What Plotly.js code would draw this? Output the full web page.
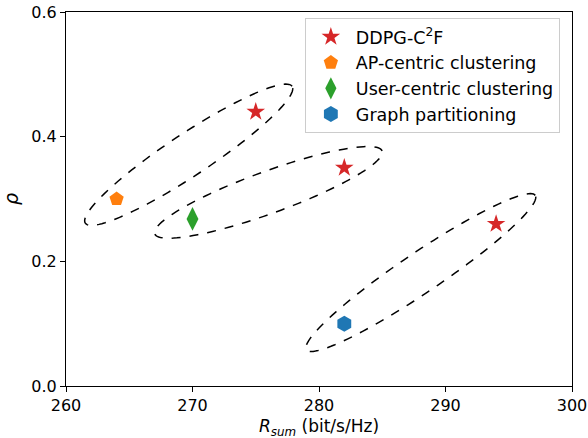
<!DOCTYPE html>
<html>
<head>
<meta charset="utf-8">
<script src="https://cdn.plot.ly/plotly-3.0.1.min.js"></script>
<style>html,body{margin:0;padding:0;background:#fff;}#chart{width:588px;height:438px;}</style>
</head>
<body>
<div id="chart"></div>
<script>
// ---- data ----
const seriesNames = ['DDPG-C<sup>2</sup>F', 'AP-centric clustering', 'User-centric clustering', 'Graph partitioning'];
const ddpgX = [275, 282, 294];
const ddpgY = [0.44, 0.35, 0.26];
const apX = [264];
const apY = [0.30];
const userX = [270];
const userY = [0.268];
const graphX = [282];
const graphY = [0.10];
const xTitle = '<i>R</i><sub><i>sum</i></sub> (bit/s/Hz)';
const yTitle = '<i>ρ</i>';

// ellipse groups: center (data), semi-axes (px), rotation (deg, screen)
const ellCx = [269.7, 276.0, 288.05];
const ellCy = [0.371, 0.3106, 0.182];
const ellA = [124, 121, 138];
const ellB = [21, 21, 20];
const ellAng = [33.5, 20.0, 34.0];

const xRange = [260, 300];
const yRange = [0, 0.6];
const W = 588, H = 438;
const M = {l: 66, r: 16, t: 12, b: 52};
const pw = W - M.l - M.r, ph = H - M.t - M.b;
const sx = pw / (xRange[1] - xRange[0]);
const sy = ph / (yRange[1] - yRange[0]);

function ellipsePath(cx, cy, a, b, angDeg) {
  const th = angDeg * Math.PI / 180;
  let d = '';
  const n = 120;
  for (let i = 0; i <= n; i++) {
    const t = 2 * Math.PI * i / n;
    const px = a * Math.cos(t) * Math.cos(th) - b * Math.sin(t) * Math.sin(th);
    const py = a * Math.cos(t) * Math.sin(th) + b * Math.sin(t) * Math.cos(th);
    const x = cx + px / sx;
    const y = cy + py / sy;
    d += (i === 0 ? 'M' : 'L') + x.toFixed(4) + ',' + y.toFixed(5);
  }
  return d + 'Z';
}

const shapes = ellCx.map((c, i) => ({
  type: 'path', xref: 'x', yref: 'y',
  path: ellipsePath(c, ellCy[i], ellA[i], ellB[i], ellAng[i]),
  line: {color: 'black', width: 1.5, dash: 'dash'}
}));

const traces = [
  {x: ddpgX, y: ddpgY, name: seriesNames[0], mode: 'markers', type: 'scatter',
   marker: {symbol: 'star', size: 14, color: '#d62728'}},
  {x: apX, y: apY, name: seriesNames[1], mode: 'markers', type: 'scatter',
   marker: {symbol: 'pentagon', size: 15, color: '#ff7f0e'}},
  {x: userX, y: userY, name: seriesNames[2], mode: 'markers', type: 'scatter',
   marker: {symbol: 'diamond-tall', size: 17, color: '#2ca02c'}},
  {x: graphX, y: graphY, name: seriesNames[3], mode: 'markers', type: 'scatter',
   marker: {symbol: 'hexagon', size: 16, color: '#1f77b4'}}
];

const axisCommon = {
  showgrid: false, zeroline: false, showline: true, linecolor: 'black', linewidth: 1,
  mirror: true, ticks: 'outside', ticklen: 5, tickcolor: 'black', tickwidth: 1,
  tickfont: {family: 'DejaVu Sans', size: 16, color: 'black'}
};

const layout = {
  width: W, height: H,
  margin: M,
  paper_bgcolor: 'white', plot_bgcolor: 'white',
  font: {family: 'DejaVu Sans', color: 'black'},
  xaxis: Object.assign({}, axisCommon, {
    range: xRange, tickvals: [260, 270, 280, 290, 300]
  }),
  yaxis: Object.assign({}, axisCommon, {
    range: yRange, tickvals: [0, 0.2, 0.4, 0.6], tickformat: '.1f',
    title: {text: yTitle, font: {size: 19, family: 'DejaVu Sans'}, standoff: 8}
  }),
  annotations: [{
    text: xTitle, xref: 'paper', yref: 'paper', x: 0.5, y: -0.074,
    xanchor: 'center', yanchor: 'top', showarrow: false,
    font: {size: 17, family: 'DejaVu Sans', color: 'black'}
  }],
  shapes: shapes,
  showlegend: true,
  legend: {
    x: 0.976, y: 0.984, xanchor: 'right', yanchor: 'top',
    bgcolor: 'rgba(255,255,255,0.8)', bordercolor: '#cccccc', borderwidth: 1,
    font: {family: 'DejaVu Sans', size: 17.5, color: 'black'},
    tracegroupgap: 0, itemwidth: 40
  }
};

Plotly.newPlot('chart', traces, layout, {displayModeBar: false, staticPlot: true});
</script>
</body>
</html>
